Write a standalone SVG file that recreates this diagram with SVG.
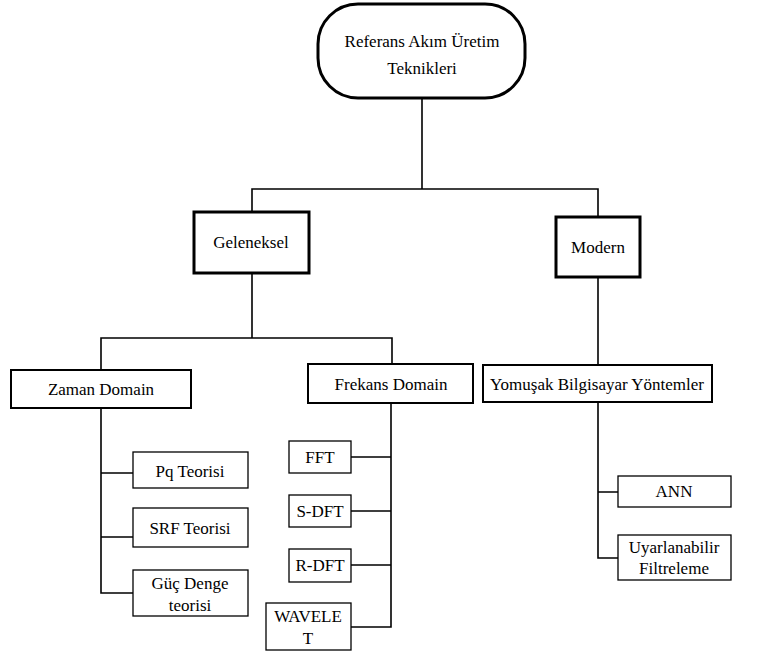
<svg xmlns="http://www.w3.org/2000/svg" width="768" height="655" viewBox="0 0 768 655">
<style>
text{font-family:'Liberation Serif','DejaVu Serif',serif;font-size:17px;fill:#000;text-anchor:middle}
.b1{fill:#fff;stroke:#000;stroke-width:3}
.b2{fill:#fff;stroke:#000;stroke-width:2}
.b3{fill:#fff;stroke:#000;stroke-width:1.3}
.c{fill:none;stroke:#000;stroke-width:1.6;stroke-linecap:square}
</style>
<rect width="768" height="655" fill="#fff"/>
<g id="connectors">
<path class="c" d="M422,98 V189 M252,212 V189 H598 V217"/>
<path class="c" d="M252,273 V338 M101,370 V338 H392 V364"/>
<path class="c" d="M598,277 V365"/>
<path class="c" d="M101,408 V593 H133 M101,473 H133 M101,537 H133"/>
<path class="c" d="M391,403 V627 H351 M351,457 H391 M351,511 H391 M351,565 H391"/>
<path class="c" d="M598,402 V558 H618 M598,492 H618"/>
</g>
<g font-family="Liberation Serif, serif">
<g id="root">
<rect class="b1" x="318" y="4" width="207" height="94" rx="40" ry="40"/>
<text x="422" y="47">Referans Akım Üretim</text>
<text x="422" y="74">Teknikleri</text>
</g>
<g id="geleneksel">
<rect class="b1" x="194" y="212" width="115" height="61"/>
<text x="251" y="248">Geleneksel</text>
</g>
<g id="modern">
<rect class="b1" x="556" y="217" width="84" height="60"/>
<text x="598" y="253">Modern</text>
</g>
<g id="zaman">
<rect class="b2" x="11" y="370" width="180" height="38"/>
<text x="101" y="395">Zaman Domain</text>
</g>
<g id="frekans">
<rect class="b2" x="308" y="364" width="165" height="39"/>
<text x="391" y="390">Frekans Domain</text>
</g>
<g id="yomusak">
<rect class="b2" x="483" y="365" width="229" height="37"/>
<text x="597" y="390">Yomuşak Bilgisayar Yöntemler</text>
</g>
<g id="pq">
<rect class="b3" x="133" y="452" width="115" height="36"/>
<text x="190" y="477">Pq Teorisi</text>
</g>
<g id="srf">
<rect class="b3" x="133" y="508" width="115" height="39"/>
<text x="190" y="534">SRF Teorisi</text>
</g>
<g id="guc">
<rect class="b3" x="133" y="570" width="115" height="46"/>
<text x="190" y="589">Güç Denge</text>
<text x="190" y="611">teorisi</text>
</g>
<g id="fft">
<rect class="b3" x="289" y="441" width="62" height="32"/>
<text x="320" y="463">FFT</text>
</g>
<g id="sdft">
<rect class="b3" x="289" y="495" width="62" height="32"/>
<text x="320" y="517">S-DFT</text>
</g>
<g id="rdft">
<rect class="b3" x="289" y="549" width="62" height="33"/>
<text x="320" y="571">R-DFT</text>
</g>
<g id="wavelet">
<rect class="b3" x="266" y="603" width="85" height="47"/>
<text x="308" y="622">WAVELE</text>
<text x="308" y="644">T</text>
</g>
<g id="ann">
<rect class="b3" x="618" y="476" width="113" height="31"/>
<text x="674" y="497">ANN</text>
</g>
<g id="uyarlanabilir">
<rect class="b3" x="618" y="535" width="113" height="45"/>
<text x="674" y="553">Uyarlanabilir</text>
<text x="674" y="574">Filtreleme</text>
</g>
</g>
</svg>
